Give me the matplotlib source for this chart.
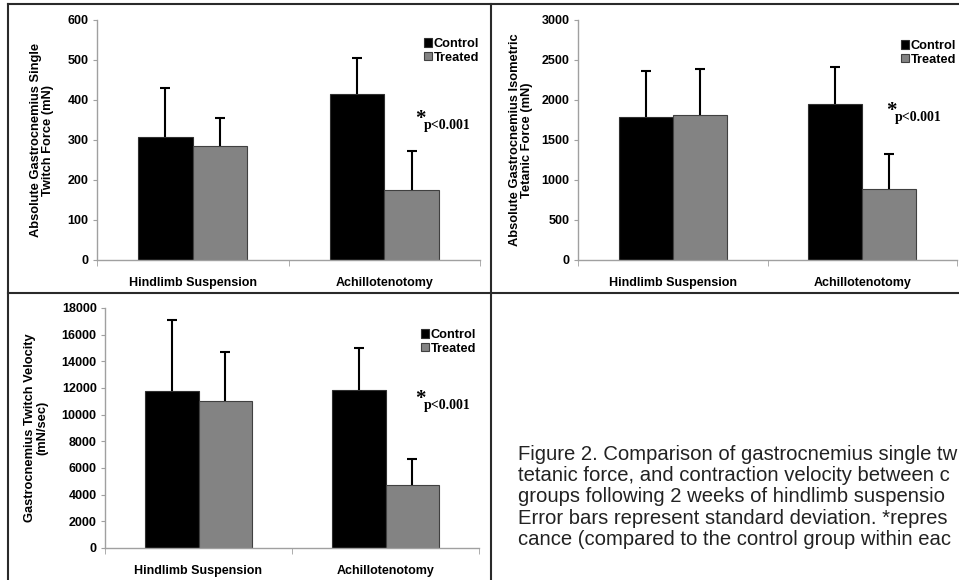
import matplotlib
matplotlib.use("Agg")
import matplotlib.pyplot as plt
import numpy as np
from matplotlib.lines import Line2D

W, H = 959, 580

categories = ["Hindlimb Suspension", "Achillotenotomy"]
series = ["Control", "Treated"]

twitch_control = [307, 415]
twitch_control_sd = [123, 90]
twitch_treated = [285, 176]
twitch_treated_sd = [70, 96]

tetanic_control = [1790, 1945]
tetanic_control_sd = [570, 465]
tetanic_treated = [1808, 887]
tetanic_treated_sd = [582, 437]

velocity_control = [11750, 11850]
velocity_control_sd = [5325, 3125]
velocity_treated = [11000, 4700]
velocity_treated_sd = [3675, 1975]

plt.rcParams["font.family"] = ["Liberation Sans", "DejaVu Sans"]

fig = plt.figure(figsize=(W / 100, H / 100), dpi=100)


def px_box(x0, y0, x1, y1):
    # pixel box (top-left origin) -> figure coords
    return [x0 / W, 1 - y1 / H, (x1 - x0) / W, (y1 - y0) / H]


def fxy(x, y):
    return x / W, 1 - y / H


def upper_err(ax, xs, vals, sds):
    vals = np.asarray(vals, float)
    sds = np.asarray(sds, float)
    ax.vlines(xs, vals, vals + sds, color="black", lw=1.5, zorder=3)
    ax.plot(xs, vals + sds, ls="none", marker="_", ms=7, mew=1.5, color="black", zorder=3)


def panel(box, ctrl, ctrl_sd, trt, trt_sd, ymax, step, ylabel, ylab_x, leg_xy, star_xy):
    ax = fig.add_axes(px_box(*box))
    x = np.arange(len(categories))
    bw = 0.285
    b1 = ax.bar(x - bw / 2, ctrl, bw, color="black", edgecolor="#303030", linewidth=0.8,
                label=series[0])
    b2 = ax.bar(x + bw / 2, trt, bw, color="#838383", edgecolor="#404040", linewidth=0.8,
                label=series[1])
    upper_err(ax, x - bw / 2, ctrl, ctrl_sd)
    upper_err(ax, x + bw / 2, trt, trt_sd)
    ax.set_xlim(-0.5, 1.5)
    ax.set_ylim(0, ymax)
    ax.set_yticks(np.arange(0, ymax + 1, step))
    ax.set_xticks(x)
    ax.set_xticklabels(categories)
    ax.set_xticks([-0.5, 0.5, 1.5], minor=True)
    for s in ["top", "right"]:
        ax.spines[s].set_visible(False)
    for s in ["left", "bottom"]:
        ax.spines[s].set_color("#a0a0a0")
        ax.spines[s].set_linewidth(1.0)
    ax.tick_params(axis="y", length=3, color="#a0a0a0", labelsize=9, pad=3)
    ax.tick_params(axis="x", which="major", length=0, labelsize=9, pad=12)
    ax.tick_params(axis="x", which="minor", length=4, color="#a0a0a0")
    for lab in ax.get_xticklabels() + ax.get_yticklabels():
        lab.set_fontweight("bold")
    cy = (box[1] + box[3]) / 2
    fig.text(*fxy(ylab_x, cy), ylabel, rotation=90, ha="center", va="center",
             fontsize=9.3, fontweight="bold", linespacing=1.0)
    ax.legend(handles=[b1, b2], loc="upper left", bbox_to_anchor=fxy(*leg_xy),
              bbox_transform=fig.transFigure, frameon=False,
              prop={"weight": "bold", "size": 9.2}, handlelength=0.6, handleheight=0.6,
              handletextpad=0.15, labelspacing=0.12, borderpad=0, borderaxespad=0)
    fig.text(*fxy(*star_xy), "*", fontsize=15, fontweight="bold", ha="left", va="center",
             family=["Liberation Serif"])
    fig.text(*fxy(star_xy[0] + 9, star_xy[1] + 7), "p<0.001", fontsize=10, fontweight="bold",
             ha="left", va="center", family=["Liberation Serif"])
    return ax


panel((97, 20, 480, 260), twitch_control, twitch_control_sd, twitch_treated, twitch_treated_sd,
      600, 100, "Absolute Gastrocnemius Single\nTwitch Force (mN)", 42, (424, 38), (415, 119))
panel((578, 20, 957, 260), tetanic_control, tetanic_control_sd, tetanic_treated, tetanic_treated_sd,
      3000, 500, "Absolute Gastrocnemius Isometric\nTetanic Force (mN)", 521, (901, 40), (886, 111))
panel((105, 308, 479, 548), velocity_control, velocity_control_sd, velocity_treated, velocity_treated_sd,
      18000, 2000, "Gastrocnemius Twitch Velocity\n(mN/sec)", 36, (421, 329), (415, 399))

# panel borders
bc = "#2a2a2a"
for (xa, ya), (xb, yb) in [((8, 4), (8, 580)), ((8, 4), (959, 4)),
                           ((491, 4), (491, 580)), ((8, 293), (959, 293))]:
    fig.add_artist(Line2D([xa / W, xb / W], [1 - ya / H, 1 - yb / H], color=bc, lw=1.5))

# caption as visible in the (cropped) reference
caption = ("Figure 2. Comparison of gastrocnemius single tw\n"
           "tetanic force, and contraction velocity between c\n"
           "groups following 2 weeks of hindlimb suspensio\n"
           "Error bars represent standard deviation. *repres\n"
           "cance (compared to the control group within eac")
fig.text(*fxy(518, 445), caption, ha="left", va="top", fontsize=14.6, color="#222222",
         linespacing=1.15)

fig.savefig("out.png", dpi=100)
